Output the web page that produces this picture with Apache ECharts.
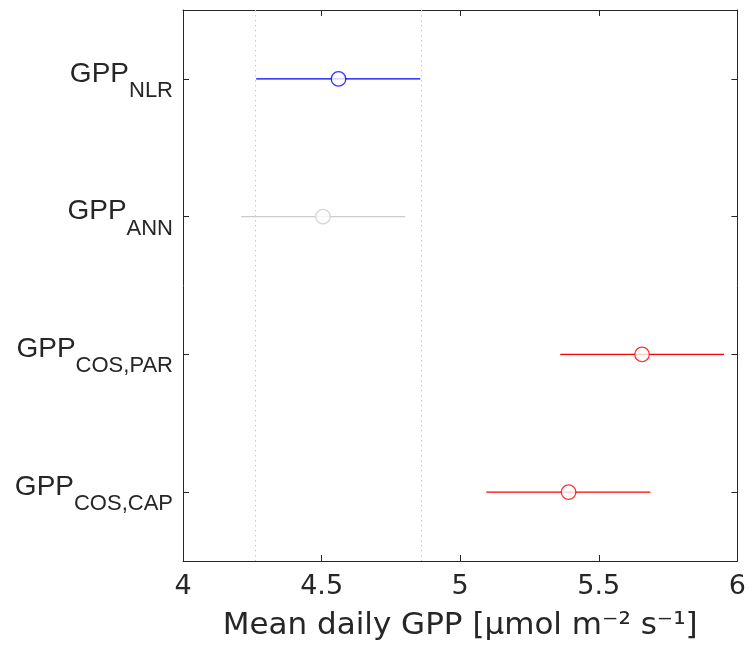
<!DOCTYPE html>
<html>
<head>
<meta charset="utf-8">
<script src="https://cdn.jsdelivr.net/npm/echarts@6/dist/echarts.min.js"></script>
<style>
html,body{margin:0;padding:0;background:#fff;}
#c{width:749px;height:647px;}
</style>
</head>
<body>
<div id="c"></div>
<script>
// ---- data ----
var prefix = 'GPP';
var subscripts = ['NLR', 'ANN', 'COS,PAR', 'COS,CAP'];
var means = [4.561, 4.505, 5.656, 5.391];
var lows  = [4.264, 4.210, 5.361, 5.094];
var highs = [4.856, 4.802, 5.952, 5.686];
var colors = ['#0000ff', '#cccccc', '#ff0000', '#ff0000'];
var refLines = [4.263, 4.855];
var xMin = 4, xMax = 6, xInterval = 0.5;
var xName = 'Mean daily GPP [\u00b5mol m\u207b\u00b2 s\u207b\u00b9]';

var axisColor = '#262626';
var chart = echarts.init(document.getElementById('c'));

var barData = subscripts.map(function (s, i) { return [lows[i], highs[i], i]; });
var pointData = subscripts.map(function (s, i) {
  return { value: [means[i], i], itemStyle: { color: '#ffffff', borderColor: colors[i], borderWidth: 1.3 } };
});

var option = {
  animation: false,
  backgroundColor: '#ffffff',
  grid: { left: 183, right: 7, top: 10, bottom: 86, containLabel: false },
  xAxis: [{
    type: 'value', position: 'bottom', min: xMin, max: xMax, interval: xInterval,
    name: xName, nameLocation: 'middle', nameGap: 49,
    nameTextStyle: { fontFamily: 'DejaVu Sans', fontSize: 31, color: axisColor },
    axisLine: { show: true, lineStyle: { color: axisColor, width: 1 } },
    axisTick: { show: true, inside: true, length: 6, lineStyle: { color: axisColor } },
    axisLabel: { fontFamily: 'DejaVu Sans', fontSize: 27, color: axisColor, margin: 12 },
    splitLine: { show: false }
  }, {
    type: 'value', position: 'top', min: xMin, max: xMax, interval: xInterval,
    axisLine: { show: true, lineStyle: { color: axisColor, width: 1 } },
    axisTick: { show: true, inside: true, length: 6, lineStyle: { color: axisColor } },
    axisLabel: { show: false },
    splitLine: { show: false }
  }],
  yAxis: [{
    type: 'category', position: 'left', inverse: true, data: subscripts,
    axisLine: { show: true, lineStyle: { color: axisColor, width: 1 } },
    axisTick: { show: true, inside: true, length: 6, alignWithLabel: true, lineStyle: { color: axisColor } },
    axisLabel: {
      margin: 10,
      formatter: function (v) { return '{m|' + prefix + '}{s|' + v + '}'; },
      rich: {
        m: { fontFamily: 'Liberation Sans', fontSize: 28, lineHeight: 28, color: axisColor, verticalAlign: 'top', padding: [6, 0, 0, 0] },
        s: { fontFamily: 'Liberation Sans', fontSize: 22, lineHeight: 50, color: axisColor, verticalAlign: 'top', padding: [26, 0, 0, 0] }
      }
    },
    splitLine: { show: false }
  }, {
    type: 'category', position: 'right', inverse: true, data: subscripts,
    axisLine: { show: true, lineStyle: { color: axisColor, width: 1 } },
    axisTick: { show: true, inside: true, length: 6, alignWithLabel: true, lineStyle: { color: axisColor } },
    axisLabel: { show: false },
    splitLine: { show: false }
  }],
  series: [{
    type: 'custom',
    xAxisIndex: 0, yAxisIndex: 0,
    encode: { x: [0, 1], y: 2 },
    data: barData,
    renderItem: function (params, api) {
      var a = api.coord([api.value(0), api.value(2)]);
      var b = api.coord([api.value(1), api.value(2)]);
      return {
        type: 'line',
        shape: { x1: a[0], y1: a[1], x2: b[0], y2: b[1] },
        style: { stroke: colors[params.dataIndex], lineWidth: 1.3 }
      };
    },
    z: 2
  }, {
    type: 'scatter',
    xAxisIndex: 0, yAxisIndex: 0,
    symbol: 'circle',
    symbolSize: 14.5,
    data: pointData,
    markLine: {
      silent: true, symbol: 'none', label: { show: false },
      lineStyle: { type: [1.5, 3.5], color: '#c8c8c8', width: 1 },
      data: refLines.map(function (x) { return { xAxis: x }; })
    },
    z: 3
  }]
};
chart.setOption(option);
</script>
</body>
</html>
